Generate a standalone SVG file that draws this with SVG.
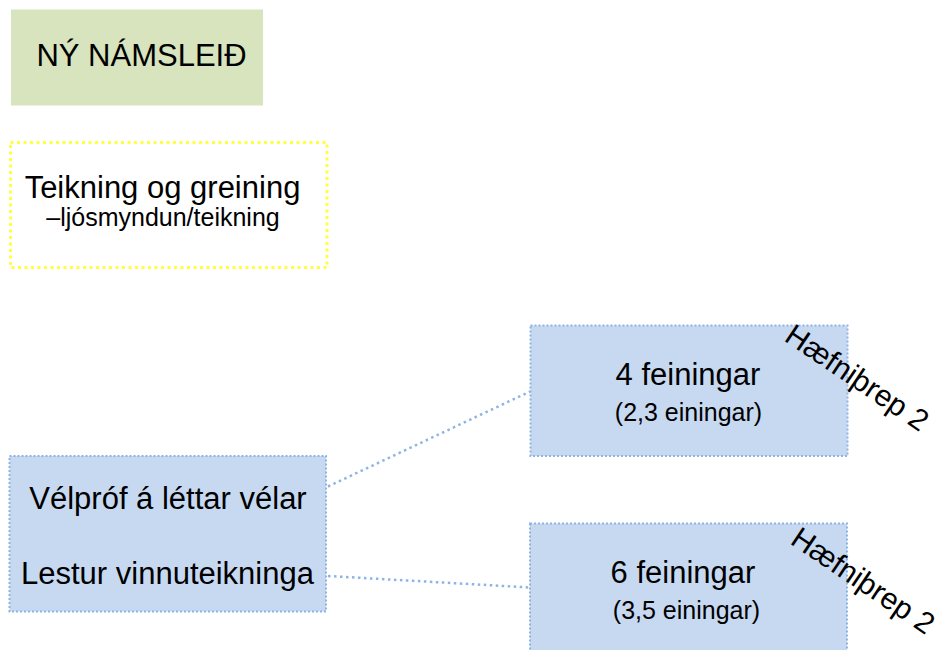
<svg xmlns="http://www.w3.org/2000/svg" width="944" height="650" viewBox="0 0 944 650">
<style>
text{font-family:"Liberation Sans",Arial,sans-serif;fill:#000}
.big{font-size:31px;text-anchor:middle}
.small{font-size:25px;text-anchor:middle}
.rot{font-size:30px}
.blue{fill:#c6d9f1;stroke:#8eb4e3;stroke-width:2;stroke-dasharray:2 2}
.conn{fill:none;stroke:#8eb4e3;stroke-width:2.5;stroke-dasharray:2.5 3.5}
</style>
<rect width="944" height="650" fill="#fff"/>
<g id="node-new">
<rect x="11" y="9.5" width="252" height="96" fill="#d7e4bd"/>
<text class="big" x="141.5" y="65.5">NÝ NÁMSLEIÐ</text>
</g>
<g id="node-teikning">
<rect x="10.5" y="142.5" width="316.5" height="125" fill="#fff" stroke="#ffff40" stroke-width="3" stroke-dasharray="3 3.5"/>
<text class="big" x="162.5" y="197.5">Teikning og greining</text>
<text class="small" x="163" y="226">–ljósmyndun/teikning</text>
</g>
<g id="connectors">
<line class="conn" x1="328" y1="486.5" x2="530" y2="391.5"/>
<line class="conn" x1="328" y1="576" x2="530" y2="587.5"/>
</g>
<g id="node-left">
<rect class="blue" x="9.5" y="456" width="316.5" height="155.5"/>
<text class="big" x="168" y="508.5">Vélpróf á léttar vélar</text>
<text class="big" x="167.5" y="584">Lestur vinnuteikninga</text>
</g>
<g id="node-4">
<rect class="blue" x="530.5" y="325.5" width="317" height="130.5"/>
<text class="big" x="688" y="385">4 feiningar</text>
<text class="small" x="688.5" y="420.5">(2,3 einingar)</text>
<text class="rot" transform="translate(783,340) rotate(34)">Hæfniþrep 2</text>
</g>
<g id="node-6">
<rect class="blue" x="530" y="523.5" width="317" height="140"/>
<text class="big" x="683" y="583">6 feiningar</text>
<text class="small" x="686.5" y="618.5">(3,5 einingar)</text>
<text class="rot" transform="translate(789,543) rotate(34)">Hæfniþrep 2</text>
</g>
</svg>
